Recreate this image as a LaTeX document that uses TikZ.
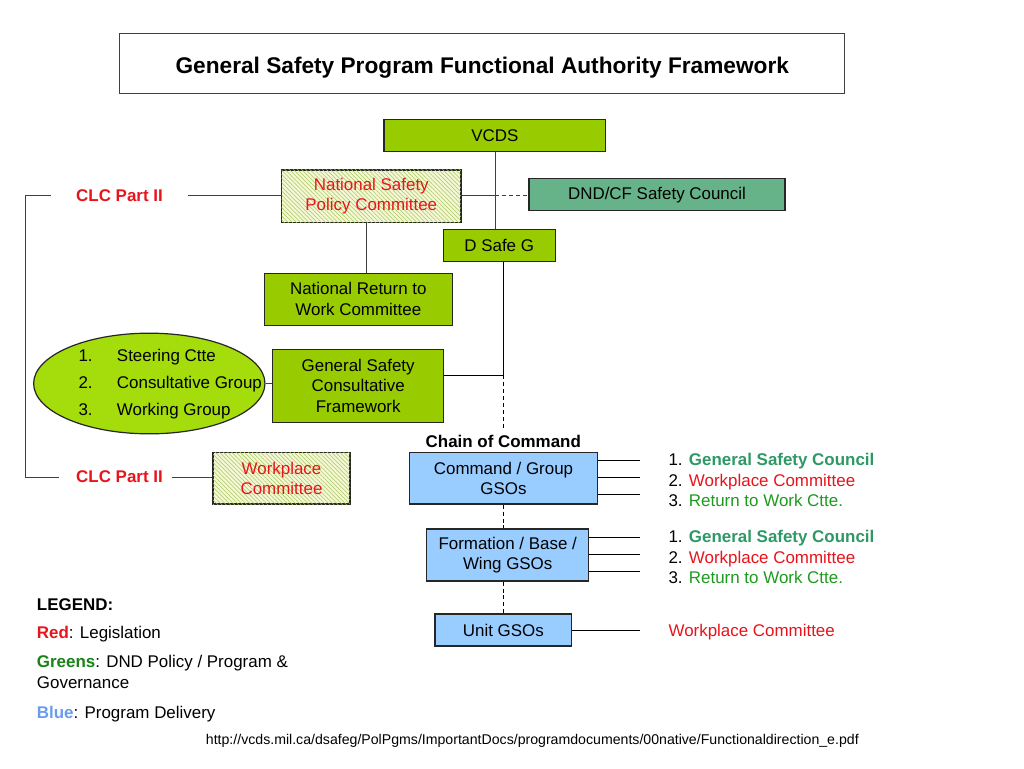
\documentclass[tikz,border=0pt]{standalone}
\usepackage{fontspec}
\setmainfont{Liberation Sans}
\usetikzlibrary{shapes.geometric,patterns.meta}
\definecolor{grn}{HTML}{99CC00}
\definecolor{ellg}{HTML}{A4DC0C}
\definecolor{seag}{HTML}{66B38A}
\definecolor{blu}{HTML}{99CCFF}
\definecolor{hbg}{HTML}{F4F8D4}
\definecolor{hln}{HTML}{AAC666}
\definecolor{redt}{HTML}{E8141C}
\definecolor{tealg}{HTML}{2E9966}
\definecolor{grnt}{HTML}{1E9A1E}
\definecolor{legb}{HTML}{6A9CEE}
\definecolor{lgray}{HTML}{404040}
\begin{document}
\begin{tikzpicture}[x=0.75pt,y=-0.75pt,
  txt/.style={font=\fontsize{12.7}{15.3}\selectfont},
  box/.style={draw=black!85, line width=0.9pt, align=center, inner sep=0pt, txt},
  gbox/.style={box, fill=grn},
  bbox/.style={box, fill=blu},
  hbox/.style={box, fill=hbg, postaction={pattern={Lines[angle=-45,distance=2.2pt,line width=0.4pt]}, pattern color=hln}, text=redt},
  conn/.style={draw=lgray, line width=0.75pt},
  dconn/.style={draw=black, line width=0.75pt, dash pattern=on 3pt off 2.2pt},
  lab/.style={txt, inner sep=0pt, anchor=base west},
  clc/.style={txt, inner sep=0pt, text=redt, font=\fontsize{12.7}{15.3}\selectfont\bfseries},
]
\useasboundingbox (0,0) rectangle (1024,768);
\fill[white] (0,0) rectangle (1024,768);

% title
\node[box, draw=lgray, line width=0.75pt, minimum width=544pt, minimum height=44.5pt,
      text height=14.6pt, text depth=0pt,
      font=\fontsize{17}{20}\selectfont\bfseries] (title) at (482.3,63.6)
      {General Safety Program Functional Authority Framework};

% boxes
\node[gbox, minimum width=166.3pt, minimum height=24pt] (vcds) at (494.8,135.6) {VCDS};
\node[hbox, minimum width=134.5pt, minimum height=39.5pt] (nspc) at (371.3,196.3) {National Safety\\Policy Committee};
\node[box, fill=seag, minimum width=192pt, minimum height=24pt] (dnd) at (657,194.8) {DND/CF Safety Council};
\node[gbox, minimum width=84pt, minimum height=24pt] (dsg) at (499.2,245.8) {D Safe G};
\node[gbox, minimum width=141pt, minimum height=39pt] (nrwc) at (358.3,299.1) {National Return to\\Work Committee};
\node[gbox, minimum width=128pt, minimum height=54.5pt] (gscf) at (358.2,385.8) {General Safety\\Consultative\\Framework};
\node[ellipse, draw=black!85, line width=0.9pt, fill=ellg, minimum width=173.5pt, minimum height=75.5pt, inner sep=0pt] (ell) at (149.3,383.5) {};
\node[hbox, minimum width=102.75pt, minimum height=38.6pt] (wc) at (281.5,478.3) {Workplace\\Committee};
\node[bbox, minimum width=141pt, minimum height=38.8pt] (cmd) at (503.5,478.2) {Command / Group\\GSOs};
\node[bbox, minimum width=121.5pt, minimum height=39pt] (fbw) at (507.7,555) {Formation / Base /\\Wing GSOs};
\node[bbox, minimum width=102.5pt, minimum height=24pt] (unit) at (503.4,630) {Unit GSOs};

% ellipse list
\node[lab] (e1n) at (78.3,361.7) {1.};
\node[lab] (e1t) at (116.7,361.7) {Steering Ctte};
\node[lab] (e2n) at (78.3,388.3) {2.};
\node[lab] (e2t) at (116.7,388.3) {Consultative Group};
\node[lab] (e3n) at (78.3,415) {3.};
\node[lab] (e3t) at (116.7,415) {Working Group};

% junctions
\coordinate (j1) at (495.3,195.7);
\coordinate (j2) at (503.5,375.3);
\coordinate (jc) at (503.5,428);

% connectors top
\draw[conn] (vcds.south -| j1) -- (dsg.north -| j1);
\draw[conn] (nspc.east |- j1) -- (j1);
\draw[dconn, draw=lgray] (j1) -- (dnd.west |- j1);
\draw[conn] (nspc.south -| nrwc.north) ++(8.5,0) coordinate (n1) -- (n1 |- nrwc.north);
\draw[conn, draw=black] (dsg.south -| j2) -- (j2);
\draw[conn, draw=black] (gscf.east |- j2) -- (j2);
\draw[dconn] (j2) -- (jc);
\draw[conn] (ell.east) -- (gscf.west |- ell.east);

% CLC Part II
\node[clc] (clc1) at (119.5,195.2) {CLC Part II};
\node[clc] (clc2) at (119.5,476.6) {CLC Part II};
\coordinate (c1s) at (188.3,195.7);
\coordinate (c2s) at (171.7,477.3);
\coordinate (b1) at (51,195.7);
\coordinate (bt) at (25.7,195.7);
\coordinate (bb) at (25.7,477.3);
\coordinate (b2) at (59.3,477.3);
\draw[conn] (c1s) -- (nspc.west |- c1s);
\draw[conn] (c2s) -- (wc.west |- c2s);
\draw[conn] (b1) -- (bt) -- (bb) -- (b2);

% chain of command
\node[txt, inner sep=0pt, anchor=base, font=\fontsize{12.7}{15.3}\selectfont\bfseries] (coc) at (503.3,447.3) {Chain of Command};
\draw[dconn] (cmd.south -| j2) -- (fbw.north -| j2);
\draw[dconn] (fbw.south -| j2) -- (unit.north -| j2);

% stubs
\coordinate (r1) at (640,460.7);
\coordinate (r2) at (640,477.7);
\coordinate (r3) at (640,494.3);
\coordinate (r4) at (640,537.3);
\coordinate (r5) at (640,554.3);
\coordinate (r6) at (640,571.7);
\coordinate (r7) at (640,630.5);
\foreach \r in {r1,r2,r3} \draw[conn, draw=black] (cmd.east |- \r) -- (\r);
\foreach \r in {r4,r5,r6} \draw[conn, draw=black] (fbw.east |- \r) -- (\r);
\draw[conn, draw=black] (unit.east |- r7) -- (r7);

% right texts
\node[lab] (t1) at (668.3,465.7) {1. \textcolor{tealg}{\bfseries General Safety Council}};
\node[lab] (t2) at (668.3,486) {2. \textcolor{redt}{Workplace Committee}};
\node[lab] (t3) at (668.3,506.3) {3. \textcolor{grnt}{Return to Work Ctte.}};
\node[lab] (t4) at (668.3,542.7) {1. \textcolor{tealg}{\bfseries General Safety Council}};
\node[lab] (t5) at (668.3,563) {2. \textcolor{redt}{Workplace Committee}};
\node[lab] (t6) at (668.3,583.3) {3. \textcolor{grnt}{Return to Work Ctte.}};
\node[lab, text=redt] (t7) at (668.3,636) {Workplace Committee};

% legend
\node[lab, font=\fontsize{12.7}{15.3}\selectfont\bfseries] (lg0) at (36.7,610.7) {LEGEND:};
\node[lab] (lg1) at (36.7,638.3) {\textcolor{redt}{\bfseries Red}: Legislation};
\node[lab] (lg2) at (36.7,667.3) {\textcolor{grnt!85!black}{\bfseries Greens}: DND Policy / Program \&};
\node[lab] (lg3) at (36.7,688.3) {Governance};
\node[lab] (lg4) at (36.7,718.3) {\textcolor{legb}{\bfseries Blue}: Program Delivery};

% url
\node[inner sep=0pt, anchor=base east, font=\fontsize{10.6}{12}\selectfont] (url) at (859,744)
  {http://vcds.mil.ca/dsafeg/PolPgms/ImportantDocs/programdocuments/00native/Functionaldirection\_e.pdf};
\end{tikzpicture}
\end{document}
